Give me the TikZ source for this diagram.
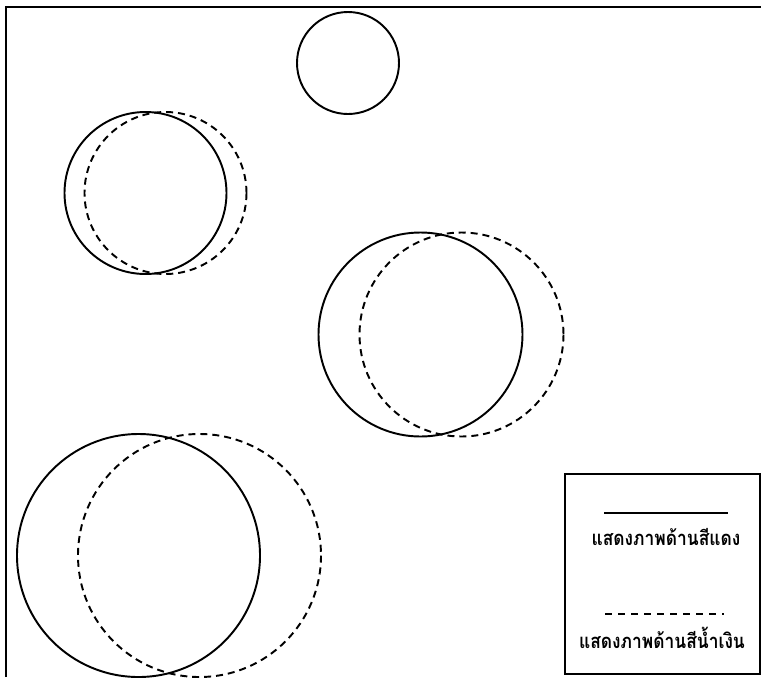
\documentclass[tikz,border=0pt]{standalone}
\usepackage{fontspec}
\newfontfamily\thaifont[Script=Thai, FakeStretch=0.86]{Loma}
\tikzset{
    rim/.style={line width=1.1pt, black},
    shifted/.style={rim, dash pattern=on 4pt off 2.8pt},
    legendtext/.style={font=\thaifont\bfseries\fontsize{11.5}{13}\selectfont, inner sep=0pt}
}
\begin{document}
\begin{tikzpicture}[x=0.02cm, y=-0.02cm]
    \useasboundingbox (0,0) rectangle (761,677);

    % Frame along top and left
    \draw[rim] (6,677) -- (6,7) -- (761,7);

    % Single circle at the top
    \draw[rim] (348,63) circle (51);

    % Pairs: solid circle and its dashed copy shifted to the right
    \foreach \cx/\cy/\r/\dx in {145.5/193/81/20, 420.5/334.5/102/41, 138.5/555.5/121.5/61} {
        \draw[rim] (\cx,\cy) circle (\r);
        \draw[shifted] (\cx+\dx,\cy) circle (\r);
    }

    % Legend
    \draw[rim] (565,474) rectangle (760,674);
    \coordinate (redA) at (604,513);
    \coordinate (redB) at (728,513);
    \coordinate (blueA) at (605,614);
    \coordinate (blueB) at (724,614);
    \draw[rim] (redA) -- (redB);
    \draw[shifted, dash pattern=on 4pt off 3.4pt] (blueA) -- (blueB);
    \node[legendtext] (redlabel) at (666,537) {แสดงภาพด้านสีแดง};
    \node[legendtext] (bluelabel) at (662,638) {แสดงภาพด้านสีน้ำเงิน};
\end{tikzpicture}
\end{document}
